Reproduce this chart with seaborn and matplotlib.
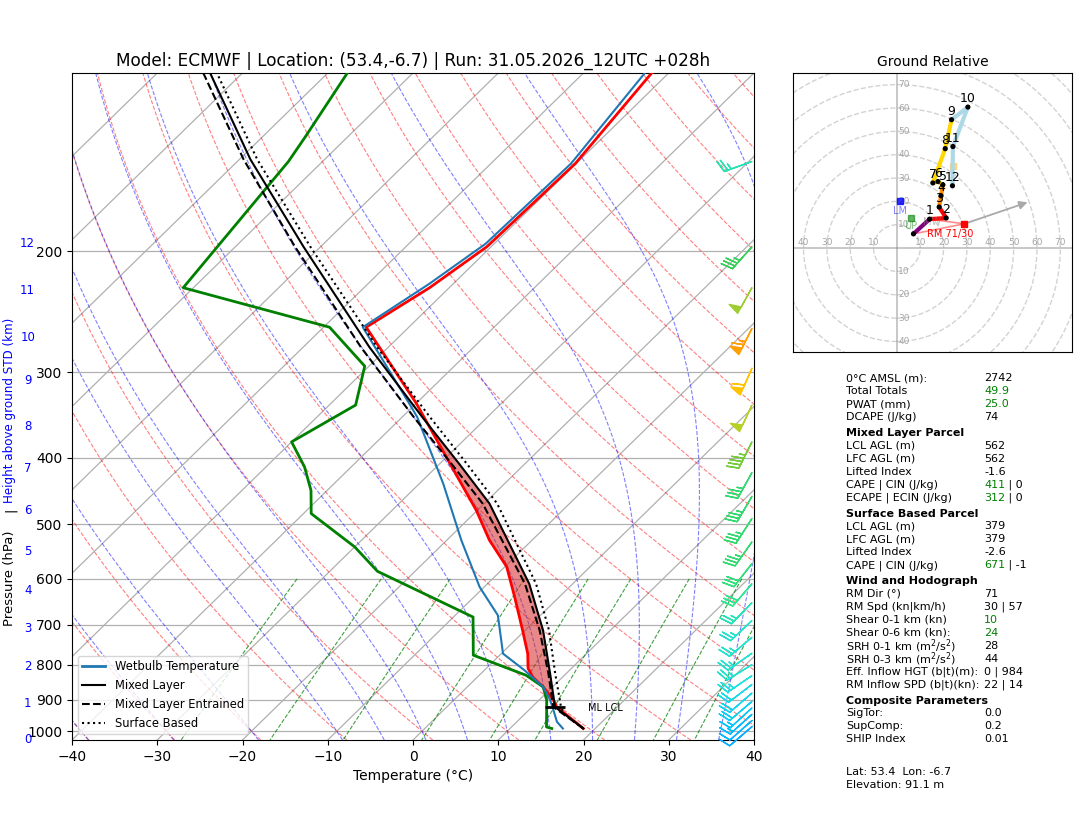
import numpy as np
import matplotlib
matplotlib.use('Agg')
import matplotlib.pyplot as plt
from matplotlib.lines import Line2D
from matplotlib.patches import Circle
from matplotlib.colors import LinearSegmentedColormap, Normalize
import seaborn as sns

# ---- sounding (hPa, degC) ----
temp_p = [991, 922, 901, 862, 834, 810, 771, 713, 638, 576, 527, 477, 399, 333, 258, 226, 197, 149, 110]
temp_t = [18.6, 12.9, 11.7, 8.9, 6.5, 4.9, 3.1, -0.3, -5.2, -9.8, -15.0, -20.1, -30.0, -40.0, -55.0, -52.3, -50.5, -50.1, -52.0]

dew_p = [991, 986, 932, 901, 862, 829, 775, 682, 585, 539, 482, 446, 412, 379, 335, 294, 258, 226, 148, 136, 110]
dew_t = [14.9, 14.1, 12.1, 10.9, 8.9, 5.5, -3.1, -7.7, -24.4, -30.0, -39.1, -41.9, -45.5, -50.0, -46.9, -50.5, -59.3, -81.2, -84.0, -85.0, -87.7]

wb_p = [991, 969, 932, 901, 862, 815, 771, 678, 617, 527, 436, 349, 335, 258, 223, 195, 149, 110]
wb_t = [16.2, 14.7, 12.9, 11.3, 8.9, 4.7, 0.2, -5.0, -10.5, -18.3, -27.2, -38.2, -40.5, -55.4, -52.8, -51.0, -50.6, -52.8]

# parcels: mixed layer, mixed layer entrained, surface based
ml_p = [991, 922, 824, 713, 610, 466, 408, 349, 276, 197, 147, 110]
ml_t = [18.6, 12.7, 8.1, 2.1, -5.1, -19.4, -27.7, -37.6, -52.2, -72.0, -88.7, -103.8]

mle_p = [991, 922, 824, 713, 610, 466, 408, 349, 276, 197, 147, 110]
mle_t = [18.6, 12.5, 7.9, 1.7, -5.6, -20.2, -28.6, -38.6, -53.2, -73.0, -89.5, -104.6]

sb_p = [991, 947, 922, 824, 713, 610, 466, 408, 349, 276, 197, 147, 110]
sb_t = [18.6, 14.8, 13.4, 8.7, 2.8, -4.3, -18.5, -26.8, -36.7, -51.3, -71.2, -87.9, -103.0]

ml_lcl_p, ml_lcl_t = 922, 12.7

# height above ground (km) labels on the left
km_labels = list(range(13))
km_p = [1027, 910, 804, 708, 623, 547, 477, 414, 360, 309, 267, 228, 195]

# wind barbs (kt)
barb_p = [148, 197, 226, 259, 296, 335, 379, 420, 455, 490, 530, 570, 610, 650, 690,
          730, 770, 800, 830, 855, 880, 905, 925, 945, 965, 985]
barb_u = [25, 24, 24, 30, 25, 22, 20, 16, 17, 18, 19, 19.5, 19, 18.5, 18,
          19, 20, 21, 19, 17, 15, 14, 12, 10, 8.5, 7]
barb_v = [9, 27, 43, 60, 57, 47, 40, 29, 29, 28, 27, 25, 22, 19, 17,
          16, 14, 13, 13, 13, 13, 12, 11, 9, 7.5, 6]

# hodograph (kt), one point per km
hodo_km = list(range(13))
hodo_u = [7.1, 14.0, 21.1, 18.1, 18.9, 19.7, 17.6, 15.4, 20.7, 23.4, 30.4, 24.0, 23.8]
hodo_v = [6.1, 12.4, 12.9, 17.6, 22.4, 27.1, 28.5, 27.9, 42.6, 55.0, 60.4, 43.5, 26.7]
rm_uv = (28.9, 10.4)
lm_uv = (1.4, 20.3)
up_uv = (6.0, 13.1)
dn_uv = (24.0, 35.3)
shear_tip = (57.1, 20.0)

# parameter table
table = [
    ('row', '0°C AMSL (m):', [('2742', 'k')]),
    ('row', 'Total Totals', [('49.9', 'green')]),
    ('row', 'PWAT (mm)', [('25.0', 'green')]),
    ('row', 'DCAPE (J/kg)', [('74', 'k')]),
    ('head', 'Mixed Layer Parcel', []),
    ('row', 'LCL AGL (m)', [('562', 'k')]),
    ('row', 'LFC AGL (m)', [('562', 'k')]),
    ('row', 'Lifted Index', [('-1.6', 'k')]),
    ('row', 'CAPE | CIN (J/kg)', [('411', 'green'), (' | 0', 'k')]),
    ('row', 'ECAPE | ECIN (J/kg)', [('312', 'green'), (' | 0', 'k')]),
    ('head', 'Surface Based Parcel', []),
    ('row', 'LCL AGL (m)', [('379', 'k')]),
    ('row', 'LFC AGL (m)', [('379', 'k')]),
    ('row', 'Lifted Index', [('-2.6', 'k')]),
    ('row', 'CAPE | CIN (J/kg)', [('671', 'green'), (' | -1', 'k')]),
    ('head', 'Wind and Hodograph', []),
    ('row', 'RM Dir (°)', [('71', 'k')]),
    ('row', 'RM Spd (kn|km/h)', [('30 | 57', 'k')]),
    ('row', 'Shear 0-1 km (kn)', [('10', 'green')]),
    ('row', 'Shear 0-6 km (kn):', [('24', 'green')]),
    ('row', 'SRH 0-1 km (m$^2$/s$^2$)', [('28', 'k')]),
    ('row', 'SRH 0-3 km (m$^2$/s$^2$)', [('44', 'k')]),
    ('row', 'Eff. Inflow HGT (b|t)(m):', [('0 | 984', 'k')]),
    ('row', 'RM Inflow SPD (b|t)(kn):', [('22 | 14', 'k')]),
    ('head', 'Composite Parameters', []),
    ('row', 'SigTor:', [('0.0', 'k')]),
    ('row', 'SupComp:', [('0.2', 'k')]),
    ('row', 'SHIP Index', [('0.01', 'k')]),
]
footer = ['Lat: 53.4  Lon: -6.7', 'Elevation: 91.1 m']

title = 'Model: ECMWF | Location: (53.4,-6.7) | Run: 31.05.2026_12UTC +028h'

# ---- skew-T geometry ----
PBOT, PTOP = 1030.0, 110.0
TMIN, TMAX = -40.0, 40.0


def skew(t, p):
    p = np.asarray(p, dtype=float)
    return np.asarray(t, dtype=float) + (TMAX - TMIN) * np.log(PBOT / p) / np.log(PBOT / PTOP)


RD, CP, LV, EPS = 287.04, 1005.7, 2.501e6, 0.622


def dtdp(p, t):
    es = 6.112 * np.exp(17.67 * (t - 273.15) / (t - 29.65))
    rs = EPS * es / (p - es)
    return (RD * t + LV * rs) / (p * (CP + LV * LV * rs * EPS / (RD * t * t)))


def moist_lapse(t0k, pp):
    out = [t0k]
    t = t0k
    for i in range(len(pp) - 1):
        p0, h = pp[i], pp[i + 1] - pp[i]
        k1 = dtdp(p0, t)
        k2 = dtdp(p0 + h / 2, t + h * k1 / 2)
        k3 = dtdp(p0 + h / 2, t + h * k2 / 2)
        k4 = dtdp(p0 + h, t + h * k3)
        t = t + h * (k1 + 2 * k2 + 2 * k3 + k4) / 6
        out.append(t)
    return np.array(out)


W, H = 1084, 813
fig = plt.figure(figsize=(W / 100, H / 100), dpi=100)
ax = fig.add_axes([72 / W, 1 - 740 / H, 682 / W, 667 / H])
ax.set_yscale('log')

# isotherms (skewed x grid)
for t in range(-130, 50, 10):
    ax.plot(skew([t, t], [PBOT, PTOP]), [PBOT, PTOP], color='#b0b0b0', lw=0.9, zorder=1)
for pl in range(200, 1100, 100):
    ax.axhline(pl, color='#b0b0b0', lw=0.9, zorder=1)

# dry adiabats
pp = np.geomspace(PBOT, PTOP, 120)
for t0 in np.arange(-40, 200, 10):
    tt = (t0 + 273.15) * (pp / 1000.0) ** (RD / CP) - 273.15
    ax.plot(skew(tt, pp), pp, color='r', ls='--', lw=0.8, alpha=0.5, zorder=1)

# moist adiabats
t0s = np.concatenate((np.arange(-50, -10, 10), np.arange(-10, 40, 5))) + 273.15
p_up = np.geomspace(1000, PTOP, 160)
p_dn = np.linspace(1000, PBOT, 6)
tu = moist_lapse(t0s, p_up)
td_ = moist_lapse(t0s, p_dn)
pm = np.concatenate((p_dn[::-1], p_up[1:]))
tm = np.concatenate((td_[::-1], tu[1:])) - 273.15
for j in range(len(t0s)):
    ax.plot(skew(tm[:, j], pm), pm, color='b', ls='--', lw=0.8, alpha=0.5, zorder=1)

# mixing ratio lines
pw = np.linspace(600, PBOT, 50)
for w in [0.0004, 0.001, 0.002, 0.004, 0.007, 0.01, 0.016, 0.024, 0.032]:
    e = pw * w / (EPS + w)
    lg = np.log(e / 6.112)
    tdw = 243.5 * lg / (17.67 - lg)
    ax.plot(skew(tdw, pw), pw, color='green', ls='--', lw=0.8, alpha=0.75, zorder=1)

# CAPE shading
pf = np.geomspace(991, 330, 200)
tt_env = np.interp(-np.log(pf), -np.log(temp_p), temp_t)
tt_par = np.interp(-np.log(pf), -np.log(ml_p), ml_t)
ax.fill_betweenx(pf, skew(tt_env, pf), skew(tt_par, pf), where=tt_par >= tt_env,
                 interpolate=True, color='tab:red', alpha=0.55, lw=0, zorder=2)

# profiles
sns.lineplot(x=skew(temp_t, temp_p), y=temp_p, sort=False, estimator=None, color='red', lw=2, ax=ax, zorder=4)
sns.lineplot(x=skew(dew_t, dew_p), y=dew_p, sort=False, estimator=None, color='green', lw=2, ax=ax, zorder=4)
sns.lineplot(x=skew(wb_t, wb_p), y=wb_p, sort=False, estimator=None, color='tab:blue', lw=1.5, ax=ax, zorder=4)
sns.lineplot(x=skew(mle_t, mle_p), y=mle_p, sort=False, estimator=None, color='black', lw=1.5, linestyle='--', ax=ax, zorder=5)
sns.lineplot(x=skew(sb_t, sb_p), y=sb_p, sort=False, estimator=None, color='black', lw=1.5, linestyle=':', ax=ax, zorder=5)
sns.lineplot(x=skew(ml_t, ml_p), y=ml_p, sort=False, estimator=None, color='black', lw=1.5, ax=ax, zorder=6)

ax.plot(skew([ml_lcl_t], [ml_lcl_p]), [ml_lcl_p], marker='_', ms=14, mew=2, color='black', zorder=7)
ax.text(20.5, 925, 'ML LCL', fontsize=7, va='center', ha='left', zorder=7)

# wind barbs
barb_cmap = LinearSegmentedColormap.from_list(
    'wind', [(0, '#1e90ff'), (0.2, '#00bfff'), (0.33, '#20e0e0'), (0.42, '#2ee68c'),
             (0.55, '#3cc84a'), (0.7, '#9acd32'), (0.85, '#ffd700'), (1.0, '#ff8c00')])
spd = np.hypot(barb_u, barb_v)
bcol = barb_cmap(Normalize(0, 70)(spd))
ax.barbs(np.full(len(barb_p), 0.997), barb_p, barb_u, barb_v, color=bcol, length=6.5,
         transform=ax.get_yaxis_transform(), zorder=8, clip_on=False)

ax.set_xticks(np.arange(-40, 41, 10))
ax.set_yticks(np.arange(100, 1001, 100))
ax.set_yticklabels([str(v) for v in range(100, 1001, 100)])
ax.yaxis.set_minor_locator(matplotlib.ticker.NullLocator())
ax.set_ylim(PBOT, PTOP)
ax.set_xlim(TMIN, TMAX)
ax.set_xlabel('Temperature (°C)', fontsize=10)
ax.set_ylabel('')
ax.set_title(title, fontsize=12.2, pad=5)

for k, pk in zip(km_labels, km_p):
    ax.text(-0.065, pk, str(k), transform=ax.get_yaxis_transform(), color='blue',
            ha='center', va='center', fontsize=8.5)

fig.text(10 / W, 1 - 578 / H, 'Pressure (hPa)', rotation=90, ha='center', va='center', fontsize=9.5)
fig.text(10 / W, 1 - 510 / H, '|', rotation=90, ha='center', va='center', fontsize=9.5)
fig.text(10 / W, 1 - 410 / H, 'Height above ground STD (km)', rotation=90, ha='center',
         va='center', fontsize=8.6, color='blue')

handles = [Line2D([], [], color='tab:blue', lw=2),
           Line2D([], [], color='black', lw=1.5),
           Line2D([], [], color='black', lw=1.5, ls='--'),
           Line2D([], [], color='black', lw=1.5, ls=':')]
ax.legend(handles, ['Wetbulb Temperature', 'Mixed Layer', 'Mixed Layer Entrained', 'Surface Based'],
          loc='lower left', fontsize=8.3, framealpha=0.8)

# ---- hodograph ----
hax = fig.add_axes([793 / W, 1 - 352 / H, 279 / W, 279 / H])
hax.set_xlim(-44.5, 75)
hax.set_ylim(-44.5, 75)
hax.set_xticks([])
hax.set_yticks([])
hax.set_title('Ground Relative', fontsize=10, pad=5)
for r in range(10, 110, 10):
    hax.add_patch(Circle((0, 0), r, fill=False, ls='--', color='gray', alpha=0.35, lw=1))
hax.axhline(0, color='gray', alpha=0.5, lw=1.2)
hax.axvline(0, color='gray', alpha=0.5, lw=1.2)
for r in range(10, 80, 10):
    hax.text(r, 0.5, str(r), color='gray', alpha=0.7, fontsize=6.5, ha='center', va='bottom')
    hax.text(0.5, r, str(r), color='gray', alpha=0.7, fontsize=6.5, ha='left', va='center')
for r in range(10, 50, 10):
    hax.text(-r, 0.5, str(r), color='gray', alpha=0.7, fontsize=6.5, ha='center', va='bottom')
    hax.text(0.5, -r, str(r), color='gray', alpha=0.7, fontsize=6.5, ha='left', va='center')

hax.plot([rm_uv[0], hodo_u[0]], [rm_uv[1], hodo_v[0]], color='red', alpha=0.45, lw=1.2)
hax.plot([rm_uv[0], hodo_u[1]], [rm_uv[1], hodo_v[1]], color='red', alpha=0.45, lw=1.2)
hax.annotate('', xy=shear_tip, xytext=rm_uv,
             arrowprops=dict(arrowstyle='-|>', color='darkgray', lw=1.3, mutation_scale=12))

segments = [(0, 1, 'purple'), (1, 3, 'red'), (3, 5, 'darkorange'), (5, 9, 'gold'), (9, 12, 'lightblue')]
for a, b, c in segments:
    hax.plot(hodo_u[a:b + 1], hodo_v[a:b + 1], color=c, lw=3, solid_capstyle='round', zorder=3)
sns.scatterplot(x=hodo_u, y=hodo_v, color='black', s=14, ax=hax, zorder=4, edgecolor='none')
for k, u, v in zip(hodo_km[1:], hodo_u[1:], hodo_v[1:]):
    hax.text(u, v + 3.5, str(k), fontsize=9, ha='center', va='center', zorder=5)

hax.plot(*rm_uv, marker='s', color='red', ms=5, zorder=5)
hax.text(rm_uv[0] - 6, rm_uv[1] - 4.2, 'RM 71/30', color='red', fontsize=7, ha='center', va='center')
hax.plot(*lm_uv, marker='s', color='blue', ms=5, alpha=0.8, zorder=5)
hax.text(lm_uv[0], lm_uv[1] - 4.2, 'LM', color='blue', alpha=0.5, fontsize=7, ha='center', va='center')
hax.plot(*up_uv, marker='s', color='green', ms=5, alpha=0.6, zorder=5)
hax.text(up_uv[0], up_uv[1] - 3.8, 'UP', color='green', alpha=0.5, fontsize=7, ha='center', va='center')
hax.plot(*dn_uv, marker='s', color='orange', ms=5, alpha=0.4, zorder=2)
hax.text(15, 11, 'MW', color='gray', alpha=0.5, fontsize=7, ha='center', va='center')
hax.set_xlabel('')
hax.set_ylabel('')

# ---- parameter table ----
tax = fig.add_axes([0, 0, 1, 1])
tax.set_axis_off()
tax.set_xlim(0, W)
tax.set_ylim(H, 0)
y = 378.3
first = True
for kind, label, vals in table:
    if not first:
        y += 16 if kind == 'head' else 13
        if kind == 'row' and prev == 'head':
            y -= 0.5
    first = False
    prev = kind
    if kind == 'head':
        tax.text(846, y, label, fontsize=8, fontweight='bold', va='center', ha='left')
        continue
    tax.text(846, y, label, fontsize=8, va='center', ha='left')
    t = tax.text(984, y, vals[0][0], color=vals[0][1], fontsize=8, va='center', ha='left')
    for s, c in vals[1:]:
        t = tax.annotate(s, xy=(1, 0), xycoords=t, va='bottom', ha='left', color=c, fontsize=8)
y += 33
for line in footer:
    tax.text(846, y, line, fontsize=8, va='center', ha='left')
    y += 12.5

fig.savefig('out.png', dpi=100)
